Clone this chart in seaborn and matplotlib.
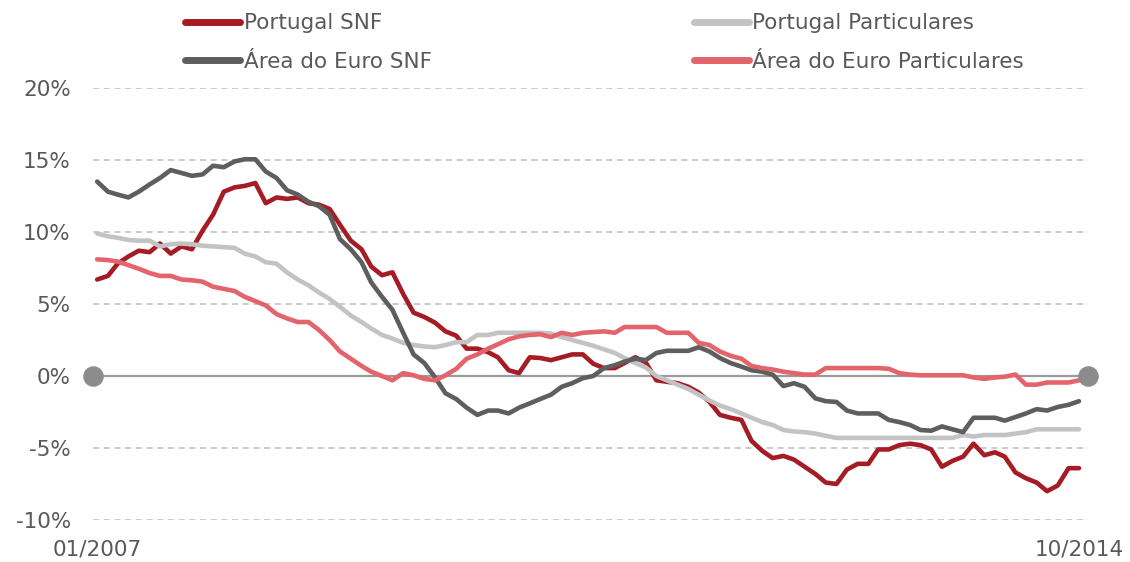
import numpy as np
import pandas as pd
import seaborn as sns
import matplotlib.pyplot as plt

# Monthly data, 01/2007 .. 10/2014 (% y/y)
months = pd.date_range("2007-01-01", "2014-10-01", freq="MS")

pt_snf = [6.7, 6.95, 7.8, 8.3, 8.7, 8.6, 9.2, 8.5, 9.0, 8.8, 10.1, 11.2,
          12.8, 13.1, 13.2, 13.4, 12.0, 12.4, 12.3, 12.4, 12.0, 11.9, 11.6, 10.5,
          9.4, 8.8, 7.6, 7.0, 7.2, 5.7, 4.4, 4.1, 3.7, 3.1, 2.8, 1.9,
          1.9, 1.65, 1.3, 0.4, 0.2, 1.3, 1.25, 1.1, 1.3, 1.5, 1.5, 0.85,
          0.55, 0.55, 0.9, 1.3, 0.95, -0.3, -0.4, -0.5, -0.75, -1.15, -1.8, -2.7,
          -2.9, -3.05, -4.5, -5.2, -5.7, -5.55, -5.8, -6.3, -6.8, -7.4, -7.5, -6.5,
          -6.1, -6.1, -5.1, -5.1, -4.8, -4.7, -4.8, -5.1, -6.3, -5.9, -5.6, -4.7,
          -5.5, -5.3, -5.6, -6.7, -7.1, -7.4, -8.0, -7.6, -6.4, -6.4]

pt_part = [9.9, 9.7, 9.6, 9.45, 9.4, 9.4, 9.0, 9.15, 9.2, 9.15, 9.05, 9.0,
           8.95, 8.9, 8.5, 8.3, 7.9, 7.8, 7.2, 6.7, 6.3, 5.8, 5.35, 4.8,
           4.2, 3.75, 3.3, 2.85, 2.6, 2.3, 2.15, 2.05, 2.0, 2.15, 2.35, 2.35,
           2.85, 2.85, 3.0, 3.0, 3.0, 3.0, 3.0, 2.95, 2.7, 2.5, 2.3, 2.1,
           1.85, 1.6, 1.25, 0.9, 0.6, 0.0, -0.3, -0.6, -0.9, -1.3, -1.7, -2.05,
           -2.3, -2.6, -2.9, -3.2, -3.4, -3.75, -3.85, -3.9, -4.0, -4.15, -4.3, -4.3,
           -4.3, -4.3, -4.3, -4.3, -4.3, -4.3, -4.3, -4.3, -4.3, -4.3, -4.1, -4.2,
           -4.1, -4.1, -4.1, -4.0, -3.9, -3.7, -3.7, -3.7, -3.7, -3.7]

ea_snf = [13.5, 12.8, 12.6, 12.4, 12.8, 13.3, 13.75, 14.3, 14.1, 13.9, 14.0, 14.6,
          14.5, 14.9, 15.05, 15.05, 14.2, 13.75, 12.9, 12.6, 12.1, 11.8, 11.2, 9.5,
          8.8, 7.9, 6.5, 5.5, 4.6, 3.0, 1.5, 0.9, -0.1, -1.2, -1.6, -2.2,
          -2.7, -2.4, -2.4, -2.6, -2.2, -1.9, -1.6, -1.3, -0.75, -0.5, -0.15, 0.0,
          0.55, 0.75, 1.0, 1.2, 1.1, 1.6, 1.75, 1.75, 1.75, 2.0, 1.7, 1.25,
          0.9, 0.65, 0.4, 0.3, 0.1, -0.7, -0.5, -0.75, -1.55, -1.75, -1.8, -2.4,
          -2.6, -2.6, -2.6, -3.05, -3.2, -3.4, -3.75, -3.8, -3.5, -3.7, -3.9, -2.9,
          -2.9, -2.9, -3.1, -2.85, -2.6, -2.3, -2.4, -2.15, -2.0, -1.75]

ea_part = [8.1, 8.05, 7.95, 7.7, 7.45, 7.15, 6.95, 6.95, 6.7, 6.65, 6.55, 6.2,
           6.05, 5.9, 5.5, 5.2, 4.9, 4.3, 4.0, 3.75, 3.75, 3.2, 2.5, 1.7,
           1.2, 0.7, 0.3, 0.0, -0.3, 0.2, 0.05, -0.2, -0.3, 0.05, 0.5, 1.2,
           1.5, 1.9, 2.2, 2.55, 2.75, 2.85, 2.9, 2.7, 3.0, 2.85, 3.0, 3.05,
           3.1, 3.0, 3.4, 3.4, 3.4, 3.4, 3.0, 3.0, 3.0, 2.3, 2.15, 1.7,
           1.4, 1.2, 0.7, 0.55, 0.45, 0.3, 0.2, 0.1, 0.1, 0.55, 0.55, 0.55,
           0.55, 0.55, 0.55, 0.5, 0.2, 0.1, 0.05, 0.05, 0.05, 0.05, 0.05, -0.1,
           -0.2, -0.1, -0.05, 0.1, -0.6, -0.6, -0.45, -0.45, -0.45, -0.3]

series_names = ["Portugal SNF", "Portugal Particulares",
                "Área do Euro SNF", "Área do Euro Particulares"]
colors = {"Portugal SNF": "#a51c24",
          "Portugal Particulares": "#c3c3c3",
          "Área do Euro SNF": "#5e5e5e",
          "Área do Euro Particulares": "#e3646a"}

df = pd.concat([
    pd.DataFrame({"mes": months, "valor": vals, "serie": name})
    for name, vals in zip(series_names, [pt_snf, pt_part, ea_snf, ea_part])
])

sns.set_style("white")
plt.rcParams["font.family"] = ["DejaVu Sans"]
text_col = "#595959"
fs = 15.5

fig = plt.figure(figsize=(11.3, 5.62), dpi=100)
ax = fig.add_axes([93 / 1130, 42 / 562, 995 / 1130, 432 / 562])

# grid first, so lines sit on top
ax.set_ylim(-10, 20)
ax.set_yticks([-10, -5, 0, 5, 10, 15, 20])
ax.yaxis.grid(True, color="#bdbdbd", linestyle=(0, (4, 3)), linewidth=1.1)
ax.set_axisbelow(True)

sns.lineplot(data=df, x="mes", y="valor", hue="serie", hue_order=series_names,
             palette=colors, linewidth=3.3, ax=ax)

xmin = months[0] - pd.Timedelta(days=12)
xmax = months[-1] + pd.Timedelta(days=26)
ax.set_xlim(xmin, xmax)
ax.axhline(0, color="#9a9a9a", linewidth=1.6, zorder=1.5)
ax.scatter([xmin, xmax], [0, 0], s=190, color="#8c8c8c", zorder=5, clip_on=False)

ax.set_yticklabels([f"{v}%" for v in [-10, -5, 0, 5, 10, 15, 20]])
ax.set_xticks([months[0], months[-1]])
ax.set_xticklabels(["01/2007", "10/2014"])
ax.tick_params(axis="y", length=0, pad=16, labelsize=fs, labelcolor=text_col)
ax.tick_params(axis="x", length=0, pad=14, labelsize=fs, labelcolor=text_col)
ax.set_xlabel("")
ax.set_ylabel("")
for s in ax.spines.values():
    s.set_visible(False)

handles, labels = ax.get_legend_handles_labels()
ax.get_legend().remove()
lookup = dict(zip(labels, handles))
order = ["Portugal SNF", "Área do Euro SNF", "Portugal Particulares", "Área do Euro Particulares"]
leg = fig.legend([lookup[k] for k in order], order, ncol=2, frameon=False,
                 loc="upper left", bbox_to_anchor=(166 / 1130, 1 + 6 / 562),
                 fontsize=fs, labelcolor=text_col, handlelength=2.56,
                 handletextpad=0.14, columnspacing=12.2, labelspacing=0.86)
for h in leg.legend_handles:
    h.set_linewidth(5)

fig.savefig("out.png", dpi=100)
